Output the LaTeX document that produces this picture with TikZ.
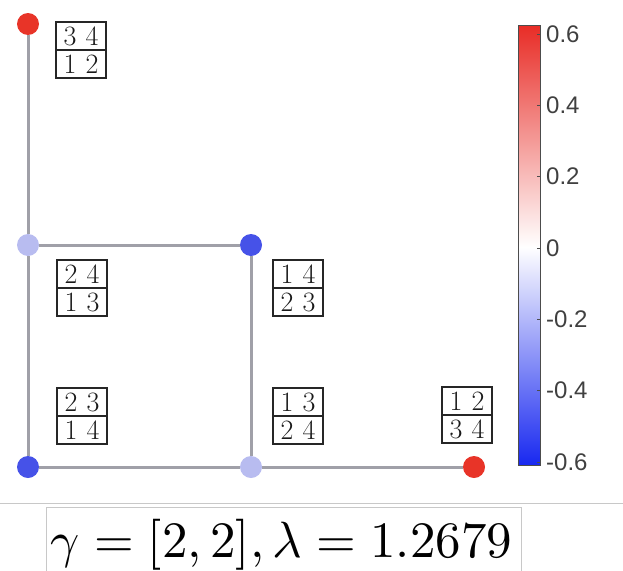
\documentclass[tikz,border=0pt]{standalone}
\usepackage{fontspec}
\usetikzlibrary{calc}
\newfontfamily\cbfont{Liberation Sans}
\definecolor{edgegray}{RGB}{160,160,168}
\definecolor{vred}{RGB}{232,52,40}
\definecolor{vblue}{RGB}{70,82,232}
\definecolor{vlight}{RGB}{184,188,240}
\definecolor{cbtop}{RGB}{232,44,38}
\definecolor{cbbot}{RGB}{24,40,240}
\definecolor{framegray}{RGB}{200,200,200}
\tikzset{
  vert/.style={circle, minimum size=22pt, inner sep=0pt},
  edge/.style={draw=edgegray, line width=3pt},
  tabbox/.style={draw=black!85, line width=1.4pt, minimum width=50pt, minimum height=56pt, inner sep=0pt},
  tabnum/.style={font=\fontsize{28}{28}\selectfont, inner sep=0pt, text=black!90},
  cblabel/.style={font=\cbfont\fontsize{24}{24}\selectfont, text=black!75, anchor=west, inner sep=0pt},
}
\newcommand{\ytab}[7]{%
  \node[tabbox] (#1) at (#2,#3) {};
  \draw[black!85, line width=2pt] (#1.west) -- (#1.east);
  \node[tabnum] at ($(#1.center)+(-11,-14)$) {#4};
  \node[tabnum] at ($(#1.center)+(11,-14)$) {#5};
  \node[tabnum] at ($(#1.center)+(-11,14)$) {#6};
  \node[tabnum] at ($(#1.center)+(11,14)$) {#7};
}
\begin{document}
\begin{tikzpicture}[x=1pt, y=-1pt]
\useasboundingbox (0,0) rectangle (623,570);
% vertices
\node[vert, fill=vred] (a) at (28,24) {};
\node[vert, fill=vlight] (b) at (28,245) {};
\node[vert, fill=vblue] (c) at (251,245) {};
\node[vert, fill=vblue] (d) at (28,467) {};
\node[vert, fill=vlight] (e) at (251,467) {};
\node[vert, fill=vred] (f) at (474,467) {};
% edges
\draw[edge] (a) -- (b);
\draw[edge] (b) -- (d);
\draw[edge] (b) -- (c);
\draw[edge] (c) -- (e);
\draw[edge] (d) -- (e);
\draw[edge] (e) -- (f);
% tableaux
\ytab{t1}{81}{50}{3}{4}{1}{2}
\ytab{t2}{82}{288}{2}{4}{1}{3}
\ytab{t3}{298}{288}{1}{4}{2}{3}
\ytab{t4}{82}{416}{2}{3}{1}{4}
\ytab{t5}{298}{416}{1}{3}{2}{4}
\ytab{t6}{467}{415}{1}{2}{3}{4}
% colorbar
\shade[top color=cbtop, bottom color=white] (518,25) rectangle (540,247);
\shade[top color=white, bottom color=cbbot] (518,247) rectangle (540,465);
\draw[black!70, line width=0.6pt] (518,25) rectangle (540,465);
\foreach \yy/\lab in {34/0.6, 105.3/0.4, 176.7/0.2, 248/0, 319.3/-0.2, 390.7/-0.4, 462/-0.6} {
  \draw[black!70, line width=0.6pt] (540,\yy) -- (537,\yy);
  \node[cblabel] at (546,\yy) {\lab};
}
% separator and formula
\draw[framegray, line width=1pt] (0,503) -- (623,503);
\draw[framegray, line width=1pt] (46,580) -- (46,507) -- (521,507) -- (521,580);
\node[scale=5.1, inner sep=0pt, anchor=base] (formula) at (281.5,557) {$\gamma=[2,2],\lambda=1.2679$};
\end{tikzpicture}
\end{document}
